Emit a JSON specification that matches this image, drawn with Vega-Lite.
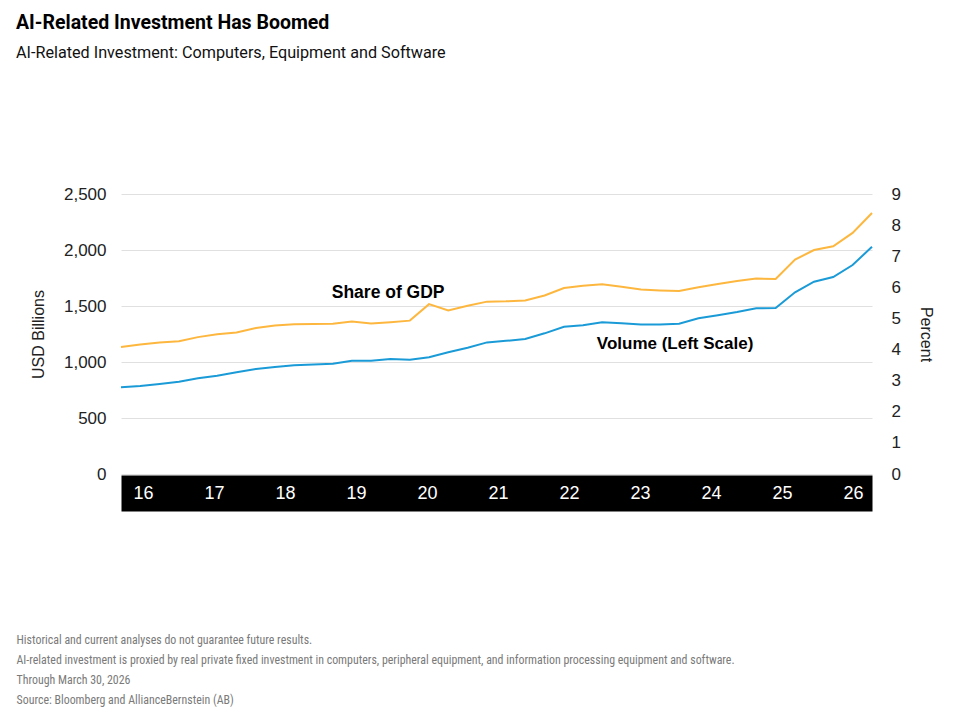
{
  "$schema": "https://vega.github.io/schema/vega-lite/v6.json",
  "width": 751,
  "height": 280,
  "autosize": {"type": "none"},
  "padding": {"left": 121, "top": 194, "right": 91, "bottom": 252},
  "background": "#ffffff",
  "title": {
    "text": "AI-Related Investment Has Boomed",
    "subtitle": "AI-Related Investment: Computers, Equipment and Software",
    "anchor": "start",
    "frame": "group",
    "dx": -105,
    "offset": 123,
    "font": "Roboto",
    "fontSize": 19.5,
    "fontWeight": "bold",
    "color": "#000000",
    "subtitleFont": "Roboto",
    "subtitleFontSize": 16.2,
    "subtitleColor": "#111111",
    "subtitlePadding": 11
  },
  "datasets": {
    "quarterly": [
      {"date": "2016-04-01", "usd": 774, "pct": 4.08},
      {"date": "2016-07-01", "usd": 786, "pct": 4.16},
      {"date": "2016-10-01", "usd": 804, "pct": 4.23},
      {"date": "2017-01-01", "usd": 824, "pct": 4.27},
      {"date": "2017-04-01", "usd": 854, "pct": 4.40},
      {"date": "2017-07-01", "usd": 878, "pct": 4.49},
      {"date": "2017-10-01", "usd": 908, "pct": 4.55},
      {"date": "2018-01-01", "usd": 938, "pct": 4.69},
      {"date": "2018-04-01", "usd": 955, "pct": 4.77},
      {"date": "2018-07-01", "usd": 970, "pct": 4.81},
      {"date": "2018-10-01", "usd": 978, "pct": 4.82},
      {"date": "2019-01-01", "usd": 985, "pct": 4.83},
      {"date": "2019-04-01", "usd": 1012, "pct": 4.90},
      {"date": "2019-07-01", "usd": 1012, "pct": 4.84},
      {"date": "2019-10-01", "usd": 1027, "pct": 4.88},
      {"date": "2020-01-01", "usd": 1021, "pct": 4.93},
      {"date": "2020-04-01", "usd": 1042, "pct": 5.46},
      {"date": "2020-07-01", "usd": 1087, "pct": 5.26},
      {"date": "2020-10-01", "usd": 1128, "pct": 5.41},
      {"date": "2021-01-01", "usd": 1175, "pct": 5.54},
      {"date": "2021-04-01", "usd": 1189, "pct": 5.55},
      {"date": "2021-07-01", "usd": 1205, "pct": 5.58},
      {"date": "2021-10-01", "usd": 1256, "pct": 5.74},
      {"date": "2022-01-01", "usd": 1315, "pct": 5.98},
      {"date": "2022-04-01", "usd": 1328, "pct": 6.05},
      {"date": "2022-07-01", "usd": 1354, "pct": 6.10},
      {"date": "2022-10-01", "usd": 1345, "pct": 6.02},
      {"date": "2023-01-01", "usd": 1335, "pct": 5.93},
      {"date": "2023-04-01", "usd": 1335, "pct": 5.90},
      {"date": "2023-07-01", "usd": 1342, "pct": 5.88},
      {"date": "2023-10-01", "usd": 1390, "pct": 6.00},
      {"date": "2024-01-01", "usd": 1417, "pct": 6.11},
      {"date": "2024-04-01", "usd": 1446, "pct": 6.20},
      {"date": "2024-07-01", "usd": 1479, "pct": 6.28},
      {"date": "2024-10-01", "usd": 1482, "pct": 6.27},
      {"date": "2025-01-01", "usd": 1622, "pct": 6.89},
      {"date": "2025-04-01", "usd": 1717, "pct": 7.20},
      {"date": "2025-07-01", "usd": 1759, "pct": 7.32},
      {"date": "2025-10-01", "usd": 1866, "pct": 7.75},
      {"date": "2026-01-01", "usd": 2029, "pct": 8.39}
    ],
    "volumeNote": [{"date": "2023-06-12", "usd": 1161, "label": "Volume (Left Scale)"}],
    "shareNote": [{"date": "2019-09-20", "pct": 5.83, "label": "Share of GDP"}],
    "years": [
      {"year": 2016}, {"year": 2017}, {"year": 2018}, {"year": 2019},
      {"year": 2020}, {"year": 2021}, {"year": 2022}, {"year": 2023},
      {"year": 2024}, {"year": 2025}, {"year": 2026}
    ]
  },
  "layer": [
    {
      "layer": [
        {
          "layer": [
            {
              "data": {"name": "quarterly"},
              "mark": {"type": "line", "color": "#1A9BD7", "strokeWidth": 2},
              "encoding": {
                "x": {
                  "field": "date", "type": "temporal",
                  "scale": {"domain": [{"utc": true, "year": 2016, "month": 4, "date": 1}, {"utc": true, "year": 2026, "month": 1, "date": 1}]},
                  "axis": {
                    "orient": "bottom",
                    "offset": 19,
                    "domain": true,
                    "domainColor": "#000000",
                    "domainWidth": 36,
                    "ticks": false,
                    "tickSize": 0,
                    "labels": false,
                    "grid": false,
                    "title": null,
                    "zindex": 0
                  }
                },
                "y": {
                  "field": "usd", "type": "quantitative",
                  "scale": {"domain": [0, 2500], "nice": false},
                  "axis": {
                    "orient": "left",
                    "values": [0, 500, 1000, 1500, 2000, 2500],
                    "format": ",d",
                    "grid": true,
                    "gridColor": "#e0e0e0",
                    "gridWidth": 1,
                    "domain": false,
                    "ticks": false,
                    "tickSize": 0,
                    "labelPadding": 15,
                    "labelOverlap": false,
                    "labelFont": "Liberation Sans",
                    "labelFontSize": 17,
                    "labelColor": "#222222",
                    "title": "USD Billions",
                    "titleFont": "Liberation Sans",
                    "titleFontSize": 16,
                    "titleFontWeight": "normal",
                    "titleColor": "#222222",
                    "titlePadding": 17
                  }
                }
              }
            },
            {
              "data": {"name": "volumeNote"},
              "mark": {"type": "text", "font": "Liberation Sans", "fontSize": 17, "fontWeight": "bold", "color": "#000000", "align": "center", "baseline": "middle"},
              "encoding": {
                "x": {"field": "date", "type": "temporal"},
                "y": {"field": "usd", "type": "quantitative"},
                "text": {"field": "label"}
              }
            }
          ]
        },
        {
          "layer": [
            {
              "data": {"name": "quarterly"},
              "mark": {"type": "line", "color": "#FDB73F", "strokeWidth": 2},
              "encoding": {
                "x": {"field": "date", "type": "temporal"},
                "y": {
                  "field": "pct", "type": "quantitative",
                  "scale": {"domain": [0, 9], "nice": false},
                  "axis": {
                    "orient": "right",
                    "values": [0, 1, 2, 3, 4, 5, 6, 7, 8, 9],
                    "format": "d",
                    "grid": false,
                    "domain": false,
                    "ticks": false,
                    "tickSize": 0,
                    "labelPadding": 19,
                    "labelOverlap": false,
                    "labelFont": "Liberation Sans",
                    "labelFontSize": 17,
                    "labelColor": "#222222",
                    "title": "Percent",
                    "titleFont": "Liberation Sans",
                    "titleFontSize": 16,
                    "titleFontWeight": "normal",
                    "titleColor": "#222222",
                    "titlePadding": 17
                  }
                }
              }
            },
            {
              "data": {"name": "shareNote"},
              "mark": {"type": "text", "font": "Liberation Sans", "fontSize": 17.5, "fontWeight": "bold", "color": "#000000", "align": "center", "baseline": "middle"},
              "encoding": {
                "x": {"field": "date", "type": "temporal"},
                "y": {
                  "field": "pct", "type": "quantitative",
                  "axis": {
                    "orient": "right",
                    "values": [0, 1, 2, 3, 4, 5, 6, 7, 8, 9],
                    "format": "d",
                    "grid": false,
                    "domain": false,
                    "ticks": false,
                    "tickSize": 0,
                    "labelPadding": 19,
                    "labelOverlap": false,
                    "labelFont": "Liberation Sans",
                    "labelFontSize": 17,
                    "labelColor": "#222222",
                    "title": "Percent",
                    "titleFont": "Liberation Sans",
                    "titleFontSize": 16,
                    "titleFontWeight": "normal",
                    "titleColor": "#222222",
                    "titlePadding": 17
                  }
                },
                "text": {"field": "label"}
              }
            }
          ]
        }
      ],
      "resolve": {"scale": {"y": "independent"}}
    },
    {
      "data": {"name": "years"},
      "mark": {"type": "rule", "opacity": 0},
      "encoding": {
        "x": {
          "field": "year", "type": "quantitative",
          "scale": {"domain": [2015.69, 2026.268], "nice": false, "zero": false},
          "axis": {
            "orient": "bottom",
            "offset": 19,
            "zindex": 1,
            "values": [2016, 2017, 2018, 2019, 2020, 2021, 2022, 2023, 2024, 2025, 2026],
            "labelExpr": "substring(toString(datum.value), 2)",
            "domain": false,
            "ticks": false,
            "tickSize": 0,
            "grid": false,
            "labelColor": "#ffffff",
            "labelFont": "Liberation Sans",
            "labelFontSize": 18,
            "labelBaseline": "middle",
            "labelPadding": 0,
            "labelFlush": false,
            "labelOverlap": false,
            "title": [
              "Historical and current analyses do not guarantee future results.",
              "AI-related investment is proxied by real private fixed investment in computers, peripheral equipment, and information processing equipment and software.",
              "Through March 30, 2026",
              "Source: Bloomberg and AllianceBernstein (AB)"
            ],
            "titleAnchor": "start",
            "titleAlign": "left",
            "titleX": -105,
            "titleY": 141,
            "titleBaseline": "top",
            "titleFont": "Liberation Sans Narrow, Roboto Condensed, Roboto",
            "titleFontSize": 11.9,
            "titleFontWeight": "normal",
            "titleColor": "#7a7a7a",
            "titleLineHeight": 20.3
          }
        }
      }
    }
  ],
  "resolve": {"scale": {"x": "independent"}},
  "config": {
    "view": {"stroke": null}
  }
}
